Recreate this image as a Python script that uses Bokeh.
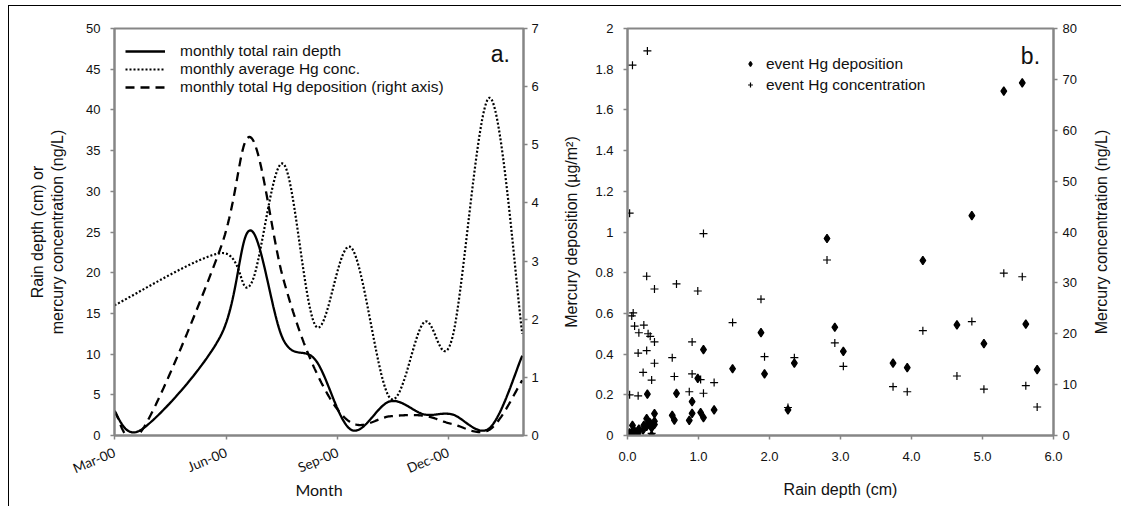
import math
import numpy as np
import pandas as pd
from bokeh.plotting import figure
from bokeh.models import (LinearAxis, Range1d, Legend, LegendItem, FixedTicker,
                          DatetimeTickFormatter, Label)
from bokeh.layouts import row
from bokeh.embed import file_html
from bokeh.resources import INLINE

# ---------------- data: panel a (monthly) ----------------
month_dates = ["2000-03-01", "2000-03-24", "2000-05-27", "2000-06-21", "2000-07-18",
               "2000-08-14", "2000-09-12", "2000-10-14", "2000-11-11", "2000-12-04",
               "2001-01-04", "2001-01-31"]
rain_cm = [2.8, 0.8, 12.1, 25.2, 11.8, 9.2, 0.7, 4.2, 2.6, 2.6, 0.9, 9.8]
hg_conc = [16.0, np.nan, 22.4, 18.5, 33.4, 13.4, 23.1, 4.6, 13.9, 11.8, 41.5, 12.5]
hg_dep = [0.42, 0.1, 3.2, 5.13, 2.7, 1.1, 0.22, 0.33, 0.34, 0.2, 0.1, 0.95]

tick_dates = ["2000-03-01", "2000-06-01", "2000-09-01", "2000-12-01"]
x_start, x_end = "2000-03-01", "2001-02-01"

# ---------------- data: panel b (events) ----------------
event_rain = [5.56, 5.30, 4.85, 4.16, 2.81, 2.92, 4.64, 5.61, 5.02, 3.04, 3.74, 3.94, 5.77,
              1.88, 1.07, 1.48, 1.93, 2.35, 0.99, 2.26, 1.22, 0.91, 0.69, 0.28, 0.63, 0.66,
              0.91, 0.87, 1.03, 1.07, 0.38,
              0.07, 0.03, 0.27, 0.08, 0.06, 0.10, 0.23, 0.16, 0.29, 0.32, 0.38, 0.15, 0.27,
              0.38, 0.22, 0.34, 0.03, 0.15, 0.34]
event_dep = [1.733, 1.692, 1.080, 0.860, 0.968, 0.532, 0.544, 0.547, 0.452, 0.413, 0.356, 0.333, 0.324,
             0.505, 0.422, 0.328, 0.303, 0.356, 0.281, 0.126, 0.126, 0.167, 0.207, 0.203, 0.099, 0.076,
             0.109, 0.074, 0.113, 0.088, 0.108,
             0.050, 0.013, 0.083, 0.020, 0.014, 0.021, 0.050, 0.032, 0.058, 0.062, 0.070, 0.024, 0.045,
             0.054, 0.027, 0.037, 0.004, 0.012, 0.001]
event_conc = [31.2, 31.9, 22.4, 20.6, 34.5, 18.2, 11.7, 9.8, 9.1, 13.6, 9.6, 8.6, 5.6,
              26.8, 39.7, 22.2, 15.5, 15.3, 28.4, 5.5, 10.4, 18.4, 29.8, 75.6, 15.3, 11.6,
              12.1, 8.6, 11.0, 8.3, 28.8,
              72.8, 43.7, 31.3, 24.1, 23.5, 21.5, 21.7, 20.2, 20.0, 19.5, 18.4, 16.2, 16.7,
              14.2, 12.4, 10.9, 8.0, 7.8, 0.4]

# ---------------- style ----------------
AX = "#868686"
TXT = "#111111"
ARIAL = "Liberation Sans"
CAL = "Lato"


def ms(d):
    return pd.Timestamp(d).value / 1e6


def smooth(xs, ys, sx, sy, n=30):
    """Excel-like smoothed line (cubic Bezier, Catmull-Rom control points)."""
    xs = np.asarray(xs, float)
    ys = np.asarray(ys, float)
    keep = ~np.isnan(ys)
    P = np.column_stack([xs[keep] * sx, ys[keep] * sy])
    out = []
    m = len(P)
    for i in range(m - 1):
        p0 = P[i - 1] if i > 0 else P[i]
        p1, p2 = P[i], P[i + 1]
        p3 = P[i + 2] if i + 2 < m else P[i + 1]
        c1 = p1 + (p2 - p0) / 6.0
        c2 = p2 - (p3 - p1) / 6.0
        t = np.linspace(0, 1, n, endpoint=(i == m - 2))[:, None]
        pts = (1 - t) ** 3 * p1 + 3 * (1 - t) ** 2 * t * c1 + 3 * (1 - t) * t ** 2 * c2 + t ** 3 * p2
        out.append(pts)
    pts = np.vstack(out)
    return pts[:, 0] / sx, pts[:, 1] / sy


def style_axis(ax, tick_font=ARIAL):
    ax.axis_line_color = AX
    ax.axis_line_width = 2
    ax.major_tick_line_color = AX
    ax.major_tick_line_width = 1.5
    ax.major_tick_out = 4
    ax.major_tick_in = 0
    ax.minor_tick_line_color = None
    ax.major_label_text_font = tick_font
    ax.major_label_text_font_size = "13px"
    ax.major_label_text_color = TXT
    ax.axis_label_text_font = ARIAL
    ax.axis_label_text_font_size = "16px"
    ax.axis_label_text_font_style = "normal"
    ax.axis_label_text_color = TXT


H = 500
TOP = 22
BOT = 71

# ================= panel a =================
x_ms = [ms(d) for d in month_dates]
p1 = figure(width=551, height=H, x_axis_type="datetime",
            x_range=Range1d(ms(x_start), ms(x_end)), y_range=Range1d(0, 50),
            output_backend="svg", toolbar_location=None,
            min_border_left=105, min_border_right=37, min_border_top=TOP, min_border_bottom=BOT)
p1.extra_y_ranges = {"dep": Range1d(0, 7)}
p1.xgrid.visible = False
p1.ygrid.visible = False
p1.outline_line_color = AX
p1.outline_line_width = 2

sx = 1.2174 / 86400000.0
xa, ya = smooth(x_ms, rain_cm, sx, 8.14)
r_rain = p1.line(xa, ya, line_color="black", line_width=2.3)
xb, yb = smooth(x_ms, hg_conc, sx, 8.14)
r_conc = p1.line(xb, yb, line_color="black", line_width=2.2, line_dash="2 2")
xc, yc = smooth(x_ms, hg_dep, sx, 58.14)
r_dep = p1.line(xc, yc, line_color="black", line_width=2.3, line_dash="9 6", y_range_name="dep")

ax_r = LinearAxis(y_range_name="dep", ticker=FixedTicker(ticks=list(range(0, 8))))
p1.add_layout(ax_r, "right")

p1.yaxis[0].ticker = FixedTicker(ticks=list(range(0, 55, 5)))
p1.xaxis.ticker = FixedTicker(ticks=[ms(d) for d in tick_dates])
fmt = "%b-%y"
p1.xaxis.formatter = DatetimeTickFormatter(microseconds=fmt, milliseconds=fmt, seconds=fmt,
                                           minsec=fmt, minutes=fmt, hourmin=fmt, hours=fmt,
                                           days=fmt, months=fmt, years=fmt)
for ax in p1.yaxis:
    style_axis(ax)
for ax in p1.xaxis:
    style_axis(ax, CAL)
p1.xaxis.major_label_orientation = 0.4
p1.xaxis.major_label_text_font_size = "13.5px"
p1.xaxis.major_label_standoff = 12
p1.xaxis.axis_label = "Month"
p1.xaxis.axis_label_text_font = CAL
p1.xaxis.axis_label_standoff = -7

p1.yaxis[0].axis_label = "Rain depth (cm) or\nmercury concentration (ng/L)"
p1.yaxis[0].major_label_standoff = 10
p1.yaxis[0].axis_label_standoff = 17
ax_r.major_label_standoff = 4

leg1 = Legend(items=[LegendItem(label="monthly total rain depth", renderers=[r_rain]),
                     LegendItem(label="monthly average Hg conc.", renderers=[r_conc]),
                     LegendItem(label="monthly total Hg deposition (right axis)", renderers=[r_dep])],
              location=(11, 339), padding=0, margin=0, spacing=0,
              glyph_width=40, glyph_height=18, label_height=18, label_standoff=15,
              border_line_color=None, background_fill_alpha=0,
              label_text_font=ARIAL, label_text_font_size="15.5px", label_text_color=TXT)
p1.add_layout(leg1, "center")
p1.add_layout(Label(x=ms("2001-01-05"), y=46.9, text="a.", text_font=ARIAL,
                    text_font_size="23px", text_baseline="middle", text_color=TXT))

# ================= panel b =================
p2 = figure(width=523, height=H, x_range=Range1d(0, 6), y_range=Range1d(0, 2),
            output_backend="svg", toolbar_location=None,
            min_border_left=67, min_border_right=30, min_border_top=TOP, min_border_bottom=BOT)
p2.extra_y_ranges = {"conc": Range1d(0, 80)}
p2.xgrid.visible = False
p2.ygrid.visible = False
p2.outline_line_color = AX
p2.outline_line_width = 2

r_d = p2.scatter(event_rain, event_dep, marker="diamond", size=8.5,
                 fill_color="black", line_color="black", line_width=1.3)
r_c = p2.scatter(event_rain, event_conc, marker="cross", size=8, line_color="black",
                 line_width=1.2, y_range_name="conc")
ax2r = LinearAxis(y_range_name="conc", ticker=FixedTicker(ticks=list(range(0, 90, 10))))
p2.add_layout(ax2r, "right")
p2.xaxis.ticker = FixedTicker(ticks=[0, 1, 2, 3, 4, 5, 6])
p2.yaxis[0].ticker = FixedTicker(ticks=[0, 0.2, 0.4, 0.6, 0.8, 1, 1.2, 1.4, 1.6, 1.8, 2])
p2.xaxis.major_label_overrides = {0: "0.0", 1: "1.0", 2: "2.0", 3: "3.0", 4: "4.0", 5: "5.0", 6: "6.0"}
for ax in p2.xaxis + p2.yaxis:
    style_axis(ax)
p2.xaxis.axis_label = "Rain depth (cm)"
p2.xaxis.major_label_standoff = 12
p2.xaxis.axis_label_standoff = 17
p2.yaxis[0].axis_label = "Mercury deposition (µg/m²)"
p2.yaxis[0].major_label_standoff = 10
p2.yaxis[0].axis_label_standoff = 12
ax2r.major_label_standoff = 5

leg2 = Legend(items=[LegendItem(label="event Hg deposition", renderers=[r_d]),
                     LegendItem(label="event Hg concentration", renderers=[r_c])],
              location=(117, 340), padding=0, margin=0, spacing=0,
              glyph_width=12, glyph_height=21, label_height=21, label_standoff=10,
              border_line_color=None, background_fill_alpha=0,
              label_text_font=ARIAL, label_text_font_size="15.5px", label_text_color=TXT)
p2.add_layout(leg2, "center")
p2.add_layout(Label(x=5.54, y=1.866, text="b.", text_font=ARIAL,
                    text_font_size="23px", text_baseline="middle", text_color=TXT))

# ================= right-hand title of panel b (reads bottom-to-top) =================
p3 = figure(width=38, height=H, x_range=Range1d(0, 1), y_range=Range1d(0, 1),
            output_backend="svg", toolbar_location=None,
            min_border_left=26, min_border_right=0, min_border_top=TOP, min_border_bottom=BOT)
p3.outline_line_color = None
p3.xgrid.visible = False
p3.ygrid.visible = False
p3.xaxis.visible = False
p3.yaxis.ticker = FixedTicker(ticks=[])
p3.yaxis.axis_line_color = None
p3.yaxis.major_tick_line_color = None
p3.yaxis.minor_tick_line_color = None
p3.yaxis.major_tick_out = 0
p3.yaxis.major_label_standoff = 0
p3.yaxis.axis_label = "Mercury concentration (ng/L)"
p3.yaxis.axis_label_standoff = 0
p3.yaxis.axis_label_text_font = ARIAL
p3.yaxis.axis_label_text_font_size = "16px"
p3.yaxis.axis_label_text_font_style = "normal"
p3.yaxis.axis_label_text_color = TXT

layout = row(p1, p2, p3, margin=(5, 0, 0, 8),
             styles={"border-left": "1px solid black", "border-top": "1px solid black"})
open("out.html", "w").write(file_html(layout, INLINE))
